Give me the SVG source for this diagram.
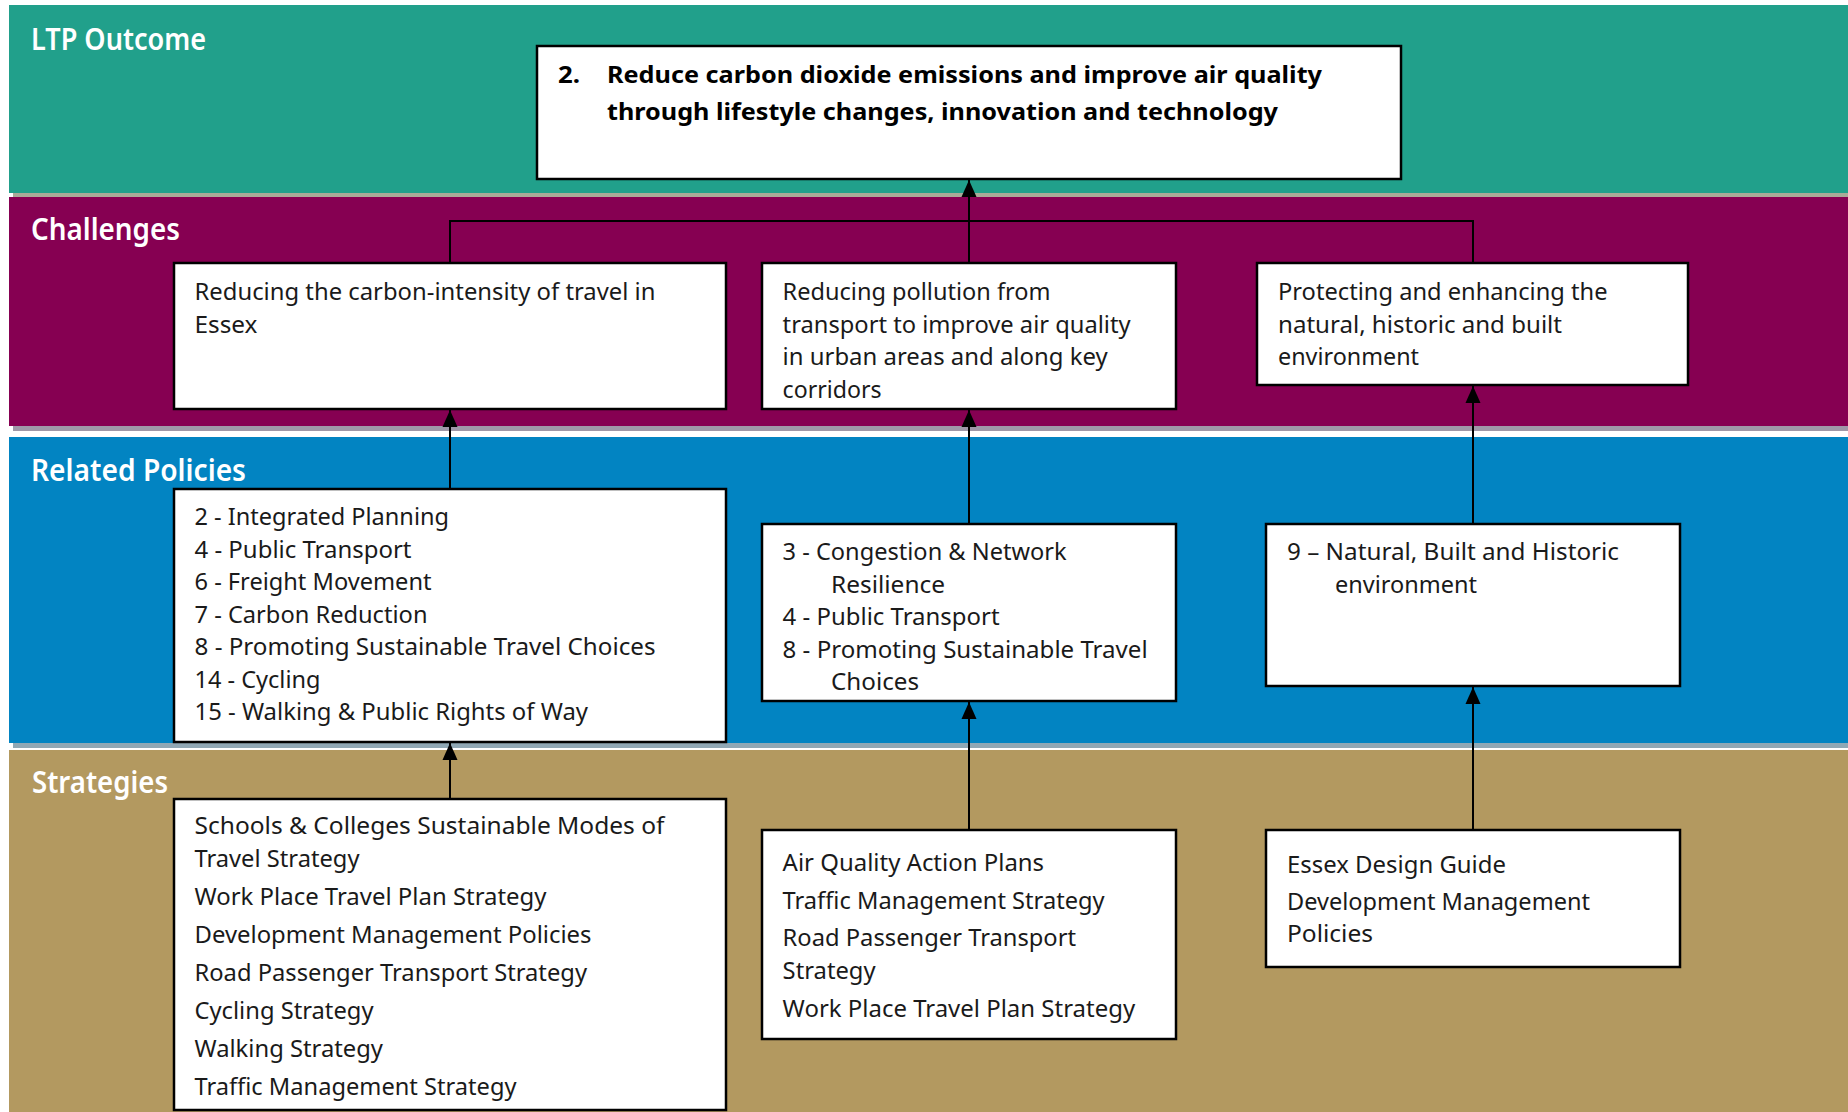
<svg xmlns="http://www.w3.org/2000/svg" width="1848" height="1112" viewBox="0 0 1848 1112">
<style>
.lbl{font-family:"Noto Sans","Liberation Sans",sans-serif;font-size:31px;font-weight:600;fill:#ffffff}
.box{fill:#ffffff;stroke:#000000;stroke-width:2.5}
.t{font-family:"Noto Sans","Liberation Sans",sans-serif;font-size:23px;fill:#1a1a1a}
.tb{font-family:"Noto Sans","Liberation Sans",sans-serif;font-size:24px;font-weight:700;fill:#000000}
.conn{stroke:#000000;stroke-width:2;fill:none}
</style>
<defs>
<marker id="arr" markerUnits="userSpaceOnUse" markerWidth="18" markerHeight="16" refX="17" refY="8" orient="auto" viewBox="0 0 18 16">
<path d="M0,0.5 L17,8 L0,15.5 z" fill="#000000"/>
</marker>
</defs>
<rect width="1848" height="1112" fill="#ffffff"/>
<g id="bands">
<rect x="9" y="5" width="1839" height="188" fill="#21a08b"/>
<rect x="13" y="193" width="1835" height="4" fill="#a9aa98"/>
<rect x="9" y="197" width="1839" height="229" fill="#860052"/>
<rect x="13" y="426" width="1835" height="5" fill="#9f98a8"/>
<rect x="9" y="437" width="1839" height="306" fill="#0284c2"/>
<rect x="13" y="743" width="1835" height="5" fill="#90a8b5"/>
<rect x="9" y="750" width="1839" height="362" fill="#b39960"/>
<text class="lbl" x="31" y="50" textLength="175" lengthAdjust="spacingAndGlyphs">LTP Outcome</text>
<text class="lbl" x="31" y="240" textLength="149" lengthAdjust="spacingAndGlyphs">Challenges</text>
<text class="lbl" x="31" y="481" textLength="215" lengthAdjust="spacingAndGlyphs">Related Policies</text>
<text class="lbl" x="32" y="793" textLength="136" lengthAdjust="spacingAndGlyphs">Strategies</text>
</g>
<g id="connectors">
<path class="conn" d="M450,263 V221 H1473 V263"/>
<line class="conn" x1="969" y1="263" x2="969" y2="180" marker-end="url(#arr)"/>
<line class="conn" x1="450" y1="489" x2="450" y2="410" marker-end="url(#arr)"/>
<line class="conn" x1="969" y1="524" x2="969" y2="410" marker-end="url(#arr)"/>
<line class="conn" x1="1473" y1="524" x2="1473" y2="386" marker-end="url(#arr)"/>
<line class="conn" x1="450" y1="799" x2="450" y2="743" marker-end="url(#arr)"/>
<line class="conn" x1="969" y1="830" x2="969" y2="702" marker-end="url(#arr)"/>
<line class="conn" x1="1473" y1="830" x2="1473" y2="687" marker-end="url(#arr)"/>
</g>
<g id="outcome">
<rect class="box" x="537" y="46" width="864" height="133"/>
<text class="tb" x="558" y="83" textLength="22" lengthAdjust="spacingAndGlyphs">2.</text>
<text class="tb" x="607" y="83" textLength="715" lengthAdjust="spacingAndGlyphs">Reduce carbon dioxide emissions and improve air quality</text>
<text class="tb" x="607" y="120" textLength="671" lengthAdjust="spacingAndGlyphs">through lifestyle changes, innovation and technology</text>
</g>
<g id="challenge1">
<rect class="box" x="174" y="263" width="552" height="146"/>
<text class="t" x="194.5" y="300" textLength="461" lengthAdjust="spacingAndGlyphs">Reducing the carbon-intensity of travel in</text>
<text class="t" x="194.5" y="332.5" textLength="63" lengthAdjust="spacingAndGlyphs">Essex</text>
</g>
<g id="challenge2">
<rect class="box" x="762" y="263" width="414" height="146"/>
<text class="t" x="782.6" y="300" textLength="268" lengthAdjust="spacingAndGlyphs">Reducing pollution from</text>
<text class="t" x="782.6" y="332.5" textLength="348" lengthAdjust="spacingAndGlyphs">transport to improve air quality</text>
<text class="t" x="782.6" y="365" textLength="325" lengthAdjust="spacingAndGlyphs">in urban areas and along key</text>
<text class="t" x="782.6" y="397.5" textLength="99" lengthAdjust="spacingAndGlyphs">corridors</text>
</g>
<g id="challenge3">
<rect class="box" x="1257" y="263" width="431" height="122"/>
<text class="t" x="1278" y="300" textLength="329.5" lengthAdjust="spacingAndGlyphs">Protecting and enhancing the</text>
<text class="t" x="1278" y="332.5" textLength="284" lengthAdjust="spacingAndGlyphs">natural, historic and built</text>
<text class="t" x="1278" y="365" textLength="141" lengthAdjust="spacingAndGlyphs">environment</text>
</g>
<g id="policy1">
<rect class="box" x="174" y="489" width="552" height="253"/>
<text class="t" x="194.5" y="525" textLength="254.5" lengthAdjust="spacingAndGlyphs">2 - Integrated Planning</text>
<text class="t" x="194.5" y="557.5" textLength="217" lengthAdjust="spacingAndGlyphs">4 - Public Transport</text>
<text class="t" x="194.5" y="590" textLength="237" lengthAdjust="spacingAndGlyphs">6 - Freight Movement</text>
<text class="t" x="194.5" y="622.5" textLength="233" lengthAdjust="spacingAndGlyphs">7 - Carbon Reduction</text>
<text class="t" x="194.5" y="655" textLength="461" lengthAdjust="spacingAndGlyphs">8 - Promoting Sustainable Travel Choices</text>
<text class="t" x="194.5" y="687.5" textLength="126" lengthAdjust="spacingAndGlyphs">14 - Cycling</text>
<text class="t" x="194.5" y="720" textLength="393.5" lengthAdjust="spacingAndGlyphs">15 - Walking &amp; Public Rights of Way</text>
</g>
<g id="policy2">
<rect class="box" x="762" y="524" width="414" height="177"/>
<text class="t" x="782.6" y="560" textLength="284" lengthAdjust="spacingAndGlyphs">3 - Congestion &amp; Network</text>
<text class="t" x="831" y="592.5" textLength="114" lengthAdjust="spacingAndGlyphs">Resilience</text>
<text class="t" x="782.6" y="625" textLength="217" lengthAdjust="spacingAndGlyphs">4 - Public Transport</text>
<text class="t" x="782.6" y="657.5" textLength="365" lengthAdjust="spacingAndGlyphs">8 - Promoting Sustainable Travel</text>
<text class="t" x="831" y="690" textLength="88" lengthAdjust="spacingAndGlyphs">Choices</text>
</g>
<g id="policy3">
<rect class="box" x="1266" y="524" width="414" height="162"/>
<text class="t" x="1287" y="560" textLength="332" lengthAdjust="spacingAndGlyphs">9 – Natural, Built and Historic</text>
<text class="t" x="1335" y="592.5" textLength="142" lengthAdjust="spacingAndGlyphs">environment</text>
</g>
<g id="strategy1">
<rect class="box" x="174" y="799" width="552" height="311"/>
<text class="t" x="194.5" y="834" textLength="470" lengthAdjust="spacingAndGlyphs">Schools &amp; Colleges Sustainable Modes of</text>
<text class="t" x="194.5" y="867" textLength="165" lengthAdjust="spacingAndGlyphs">Travel Strategy</text>
<text class="t" x="194.5" y="905" textLength="352" lengthAdjust="spacingAndGlyphs">Work Place Travel Plan Strategy</text>
<text class="t" x="194.5" y="943" textLength="397" lengthAdjust="spacingAndGlyphs">Development Management Policies</text>
<text class="t" x="194.5" y="981" textLength="392.5" lengthAdjust="spacingAndGlyphs">Road Passenger Transport Strategy</text>
<text class="t" x="194.5" y="1019" textLength="179" lengthAdjust="spacingAndGlyphs">Cycling Strategy</text>
<text class="t" x="194.5" y="1057" textLength="188.5" lengthAdjust="spacingAndGlyphs">Walking Strategy</text>
<text class="t" x="194.5" y="1095" textLength="322" lengthAdjust="spacingAndGlyphs">Traffic Management Strategy</text>
</g>
<g id="strategy2">
<rect class="box" x="762" y="830" width="414" height="209"/>
<text class="t" x="782.6" y="871" textLength="261.5" lengthAdjust="spacingAndGlyphs">Air Quality Action Plans</text>
<text class="t" x="782.6" y="909" textLength="322" lengthAdjust="spacingAndGlyphs">Traffic Management Strategy</text>
<text class="t" x="782.6" y="946" textLength="293.5" lengthAdjust="spacingAndGlyphs">Road Passenger Transport</text>
<text class="t" x="782.6" y="979" textLength="93" lengthAdjust="spacingAndGlyphs">Strategy</text>
<text class="t" x="782.6" y="1017" textLength="352.5" lengthAdjust="spacingAndGlyphs">Work Place Travel Plan Strategy</text>
</g>
<g id="strategy3">
<rect class="box" x="1266" y="830" width="414" height="137"/>
<text class="t" x="1287" y="873" textLength="219" lengthAdjust="spacingAndGlyphs">Essex Design Guide</text>
<text class="t" x="1287" y="910" textLength="303" lengthAdjust="spacingAndGlyphs">Development Management</text>
<text class="t" x="1287" y="942" textLength="86" lengthAdjust="spacingAndGlyphs">Policies</text>
</g>
</svg>
